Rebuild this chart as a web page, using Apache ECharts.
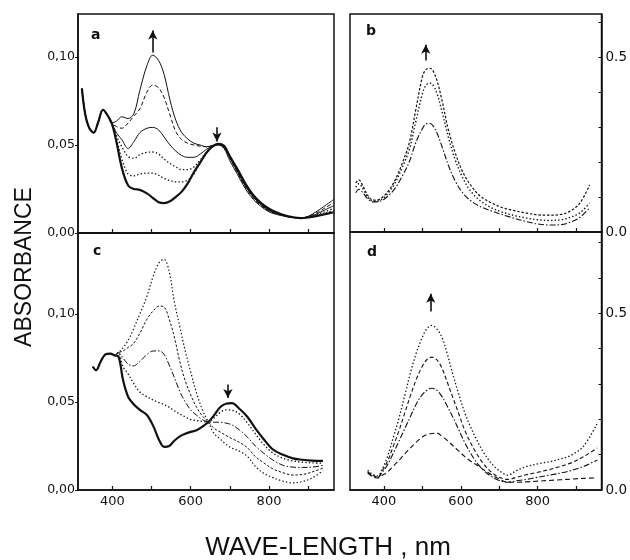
<!DOCTYPE html>
<html>
<head>
<meta charset="utf-8">
<script src="https://cdn.jsdelivr.net/npm/echarts@6/dist/echarts.min.js"></script>
<style>html,body{margin:0;padding:0;background:#fff;}#c{width:630px;height:560px;}</style>
</head>
<body>
<div id="c"></div>
<script>
// ---------- Panel a ----------
const wlA = [322,330,340,352,363,376,387,398,410,424,440,455,470,488,503,518,532,547,562,577,592,608,624,640,655,670,685,700,720,740,760,780,800,820,840,860,880,900,920,940,965];
const a1 = [0.082,0.068,0.060,0.057,0.0625,0.070,0.067,0.0625,0.0635,0.066,0.065,0.068,0.081,0.095,0.101,0.098,0.090,0.0755,0.064,0.057,0.0535,0.051,0.050,0.049,0.0495,0.050,0.048,0.041,0.033,0.025,0.019,0.015,0.012,0.0105,0.0095,0.0088,0.0085,0.0095,0.012,0.015,0.019];
const a2 = [0.082,0.068,0.060,0.057,0.0625,0.070,0.067,0.0625,0.0605,0.0595,0.0625,0.0665,0.0705,0.080,0.084,0.0825,0.077,0.067,0.0575,0.053,0.051,0.050,0.0493,0.049,0.0497,0.0502,0.0485,0.0425,0.034,0.0258,0.0198,0.0155,0.0125,0.0108,0.0097,0.0089,0.0085,0.0093,0.0112,0.0138,0.0172];
const a3 = [0.082,0.068,0.060,0.057,0.0625,0.070,0.067,0.0625,0.057,0.053,0.048,0.052,0.057,0.0595,0.060,0.0585,0.0545,0.050,0.0465,0.044,0.043,0.043,0.0448,0.0475,0.0495,0.0503,0.0488,0.0428,0.0345,0.0265,0.0203,0.016,0.0128,0.011,0.0098,0.0089,0.0085,0.0091,0.0106,0.0128,0.0155];
const a4 = [0.082,0.068,0.060,0.057,0.0625,0.070,0.067,0.0625,0.0555,0.049,0.0435,0.0425,0.0445,0.0458,0.046,0.0448,0.042,0.0395,0.0375,0.036,0.036,0.0375,0.0415,0.046,0.0493,0.0504,0.049,0.043,0.035,0.027,0.0208,0.0163,0.0131,0.0112,0.0099,0.0089,0.0085,0.009,0.0102,0.0118,0.014];
const a5 = [0.082,0.068,0.060,0.057,0.0625,0.070,0.067,0.0625,0.054,0.042,0.0335,0.0325,0.0335,0.034,0.034,0.0328,0.031,0.0298,0.029,0.029,0.030,0.0335,0.040,0.0455,0.049,0.0505,0.0492,0.0432,0.0355,0.0275,0.0211,0.0167,0.0134,0.0114,0.0099,0.0089,0.0085,0.0089,0.0098,0.011,0.0128];
const a6 = [0.082,0.068,0.060,0.057,0.0625,0.070,0.067,0.0625,0.052,0.037,0.027,0.025,0.0245,0.0225,0.020,0.0175,0.017,0.018,0.0205,0.0235,0.028,0.0345,0.040,0.0455,0.049,0.0506,0.0495,0.0435,0.036,0.028,0.0215,0.017,0.0138,0.0117,0.0100,0.0090,0.0085,0.0088,0.0095,0.0105,0.0118];

// ---------- Panel c ----------
const wlC = [350,358,370,382,395,405,415,427,440,453,470,488,505,520,532,545,558,572,586,600,615,630,645,660,675,690,705,725,745,765,786,810,836,861,885,910,938];
const c1 = [0.070,0.068,0.073,0.077,0.0775,0.0765,0.078,0.0807,0.085,0.091,0.100,0.110,0.122,0.1295,0.131,0.124,0.107,0.093,0.079,0.067,0.055,0.0455,0.0386,0.032,0.029,0.026,0.0238,0.022,0.019,0.0135,0.0095,0.007,0.005,0.004,0.0048,0.0068,0.011];
const c2 = [0.070,0.068,0.073,0.077,0.0775,0.0765,0.078,0.079,0.081,0.083,0.089,0.097,0.102,0.1045,0.104,0.097,0.087,0.073,0.062,0.054,0.047,0.042,0.0386,0.035,0.033,0.031,0.0292,0.027,0.024,0.019,0.0155,0.012,0.0098,0.0085,0.0088,0.0102,0.0125];
const c3 = [0.070,0.068,0.073,0.077,0.0775,0.0765,0.078,0.075,0.0715,0.0705,0.073,0.077,0.079,0.079,0.077,0.071,0.064,0.056,0.050,0.0455,0.0425,0.040,0.0386,0.0385,0.0385,0.038,0.037,0.034,0.030,0.025,0.021,0.017,0.014,0.013,0.0128,0.013,0.014];
const c4 = [0.070,0.068,0.073,0.077,0.0775,0.0765,0.078,0.070,0.066,0.061,0.0557,0.053,0.051,0.0495,0.0485,0.047,0.045,0.0432,0.0415,0.040,0.0395,0.039,0.0386,0.041,0.044,0.0455,0.0453,0.043,0.038,0.032,0.026,0.021,0.018,0.0165,0.0158,0.0154,0.0153];
const c5 = [0.070,0.068,0.073,0.077,0.0775,0.0765,0.076,0.0625,0.053,0.049,0.0455,0.0426,0.036,0.028,0.0245,0.025,0.028,0.0305,0.032,0.033,0.034,0.036,0.0386,0.0425,0.047,0.049,0.0493,0.046,0.0415,0.035,0.029,0.023,0.020,0.018,0.0172,0.0167,0.0165];

// ---------- Panel b ----------
const wlB = [327,335,345,358,372,385,400,415,430,448,466,483,500,510,520,535,551,568,586,605,625,650,680,710,740,770,800,830,860,885,910,935];
const b1 = [0.140,0.149,0.133,0.105,0.091,0.092,0.103,0.122,0.150,0.197,0.254,0.349,0.443,0.465,0.468,0.443,0.377,0.291,0.225,0.172,0.135,0.103,0.083,0.069,0.061,0.054,0.049,0.048,0.050,0.060,0.083,0.134];
const b2 = [0.128,0.138,0.125,0.100,0.088,0.089,0.098,0.116,0.142,0.185,0.235,0.315,0.395,0.420,0.426,0.405,0.345,0.270,0.205,0.155,0.118,0.090,0.069,0.056,0.047,0.040,0.035,0.033,0.035,0.042,0.055,0.083];
const b3 = [0.112,0.122,0.113,0.095,0.086,0.087,0.093,0.107,0.126,0.160,0.200,0.255,0.295,0.309,0.310,0.290,0.245,0.190,0.145,0.112,0.090,0.073,0.060,0.049,0.039,0.030,0.023,0.020,0.021,0.028,0.042,0.069];

// ---------- Panel d ----------
const wlD = [358,370,384,396,409,425,440,455,470,485,500,513,525,538,551,565,580,595,610,625,640,660,680,700,722,745,770,800,830,860,890,920,955];
const d1 = [0.056,0.045,0.040,0.060,0.093,0.15,0.206,0.27,0.335,0.39,0.432,0.458,0.466,0.455,0.432,0.385,0.325,0.27,0.22,0.18,0.145,0.105,0.075,0.055,0.042,0.055,0.066,0.074,0.080,0.088,0.100,0.125,0.189];
const d2 = [0.052,0.042,0.037,0.055,0.080,0.125,0.170,0.22,0.27,0.315,0.35,0.37,0.376,0.368,0.345,0.305,0.26,0.215,0.17,0.135,0.105,0.073,0.050,0.036,0.030,0.036,0.043,0.050,0.058,0.067,0.078,0.095,0.119];
const d3 = [0.050,0.040,0.035,0.050,0.070,0.105,0.14,0.175,0.21,0.245,0.27,0.283,0.288,0.282,0.265,0.237,0.205,0.17,0.135,0.105,0.08,0.055,0.038,0.027,0.022,0.026,0.030,0.036,0.042,0.048,0.056,0.067,0.085];
const d4 = [0.048,0.038,0.034,0.042,0.050,0.068,0.085,0.103,0.12,0.136,0.15,0.157,0.16,0.161,0.152,0.14,0.125,0.11,0.095,0.082,0.072,0.057,0.043,0.031,0.022,0.022,0.023,0.025,0.027,0.029,0.031,0.033,0.034];

// ---------- Axes / annotations ----------
const xTicks = [400,500,600,700,800,900];
const xLabels = [400,600,800];
const leftTicks = [0,0.05,0.10];
const rightTicksB = [0,0.1,0.2,0.3,0.4,0.5,0.6];
const rightTicksD = [0,0.1,0.2,0.3,0.4,0.5,0.6,0.7];
const rightLabels = [0,0.5];
// arrows: [wavelength, from, to]
const arrowsA = [[503,0.1025,0.1150],[667,0.0600,0.0520]];
const arrowsB = [[509,0.490,0.535]];
const arrowsC = [[695,0.0600,0.0522]];
const arrowsD = [[522,0.505,0.555]];

const INK = '#111';
const FONT = 'DejaVu Sans';
const DOT = [1.4,2.2], DASH = [4,2.5], DASHDOT = [6,2,1.5,2], FINE = [2.5,1.8];

const chart = echarts.init(document.getElementById('c'), null, {renderer:'canvas'});

function xAxis(gi, showLabels){
  return {type:'value', gridIndex:gi, min:312, max:966,
    axisLine:{show:true, lineStyle:{color:INK, width:1.5}},
    axisTick:{show:true, inside:true, length:4, customValues:xTicks, lineStyle:{color:INK, width:1.2}},
    axisLabel:{show:showLabels, customValues:xLabels, color:INK, fontSize:13, fontFamily:FONT, margin:5},
    splitLine:{show:false}};
}
function yLeft(gi, max){
  return {type:'value', gridIndex:gi, min:0, max:max, position:'left',
    axisLine:{show:true, lineStyle:{color:INK, width:1.5}},
    axisTick:{show:true, inside:false, length:3, customValues:leftTicks, lineStyle:{color:INK}},
    axisLabel:{customValues:leftTicks, color:INK, fontSize:12.5, fontFamily:FONT, margin:3,
      formatter:v=>v.toFixed(2).replace('.',',')},
    splitLine:{show:false}};
}
function yRight(gi, max, ticks){
  return {type:'value', gridIndex:gi, min:0, max:max, position:'right',
    axisLine:{show:true, lineStyle:{color:INK, width:1.5}},
    axisTick:{show:true, inside:true, length:3, customValues:ticks, lineStyle:{color:INK}},
    axisLabel:{customValues:rightLabels, color:INK, fontSize:13.5, fontFamily:FONT, margin:4,
      formatter:v=>v.toFixed(1)},
    splitLine:{show:false}};
}
function line(gi, wl, vals, dash, width, arrows){
  const s = {type:'line', xAxisIndex:gi, yAxisIndex:gi, smooth:0.35, showSymbol:false, silent:true,
    data: wl.map((w,i)=>[w, vals[i]]),
    lineStyle:{color:INK, width:width||1, type:dash||'solid'}, itemStyle:{color:INK}};
  if(arrows){
    s.markLine = {silent:true, symbol:['none','arrow'], symbolSize:[7,9],
      lineStyle:{color:INK, width:1.6, type:'solid'}, label:{show:false},
      data: arrows.map(a=>[{coord:[a[0],a[1]]},{coord:[a[0],a[2]]}])};
  }
  return s;
}

const gridStyle = {show:true, borderColor:INK, borderWidth:1.5, backgroundColor:'transparent'};
chart.setOption({
  animation:false,
  backgroundColor:'#fff',
  grid:[
    Object.assign({left:78, top:14, width:256, height:219}, gridStyle),
    Object.assign({left:350, top:14, width:255, height:218}, gridStyle),
    Object.assign({left:78, top:233, width:256, height:257}, gridStyle),
    Object.assign({left:350, top:232, width:255, height:258}, gridStyle)
  ],
  xAxis:[xAxis(0,false), xAxis(1,false), xAxis(2,true), xAxis(3,true)],
  yAxis:[yLeft(0,0.1244), yRight(1,0.623,rightTicksB), yLeft(2,0.146), yRight(3,0.73,rightTicksD)],
  series:[
    line(0,wlA,a1,'solid',1,arrowsA),
    line(0,wlA,a2,DASH,1),
    line(0,wlA,a3,'solid',1),
    line(0,wlA,a4,DOT,1.3),
    line(0,wlA,a5,DOT,1.3),
    line(0,wlA,a6,'solid',2.2),
    line(1,wlB,b1,FINE,1.2,arrowsB),
    line(1,wlB,b2,DOT,1.4),
    line(1,wlB,b3,DASHDOT,1.1),
    line(2,wlC,c1,DOT,1.2,arrowsC),
    line(2,wlC,c2,FINE,1),
    line(2,wlC,c3,DASHDOT,1),
    line(2,wlC,c4,DOT,1.3),
    line(2,wlC,c5,'solid',2.2),
    line(3,wlD,d1,DOT,1.3,arrowsD),
    line(3,wlD,d2,DASH,1.1),
    line(3,wlD,d3,DASHDOT,1.1),
    line(3,wlD,d4,[5,3],1.1)
  ],
  graphic:[
    {type:'text', left:91, top:28, style:{text:'a', font:'bold 14px "DejaVu Sans"', fill:INK}},
    {type:'text', left:366, top:24, style:{text:'b', font:'bold 14px "DejaVu Sans"', fill:INK}},
    {type:'text', left:93, top:244, style:{text:'c', font:'bold 14px "DejaVu Sans"', fill:INK}},
    {type:'text', left:367, top:245, style:{text:'d', font:'bold 14px "DejaVu Sans"', fill:INK}},
    {type:'text', x:25, y:267, rotation:Math.PI/2,
      style:{text:'ABSORBANCE', font:'23px "Liberation Sans"', fill:INK, align:'center', verticalAlign:'middle'}},
    {type:'text', x:328, y:548,
      style:{text:'WAVE-LENGTH , nm', font:'26px "Liberation Sans"', fill:INK, align:'center', verticalAlign:'middle'}}
  ]
});
</script>
</body>
</html>
